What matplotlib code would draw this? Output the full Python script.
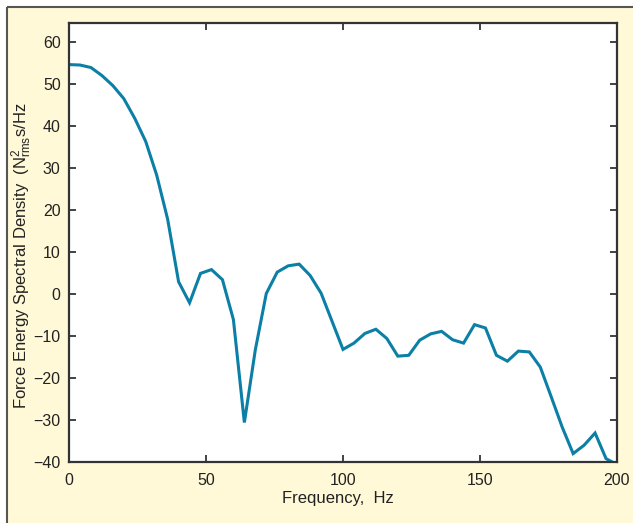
import matplotlib
matplotlib.use("Agg")
import matplotlib.pyplot as plt
from matplotlib.patches import Rectangle

plt.rcParams['font.family'] = ['Liberation Sans', 'DejaVu Sans']
plt.rcParams['mathtext.fontset'] = 'custom'
plt.rcParams['mathtext.rm'] = 'Liberation Sans'
plt.rcParams['mathtext.it'] = 'Liberation Sans:italic'

freq = [0, 4, 8, 12, 16, 20, 24, 28, 32, 36, 40, 44, 48, 52, 56, 60, 64, 68, 72, 76,
        80, 84, 88, 92, 96, 100, 104, 108, 112, 116, 120, 124, 128, 132, 136, 140,
        144, 148, 152, 156, 160, 164, 168, 172, 176, 180, 184, 188, 192, 196, 200]
esd = [54.6, 54.5, 53.9, 52.0, 49.6, 46.5, 41.8, 36.3, 28.3, 17.8, 2.9, -2.1, 4.9,
       5.8, 3.4, -6.1, -30.6, -13.3, 0.1, 5.2, 6.7, 7.1, 4.4, 0.2, -6.5, -13.2, -11.7,
       -9.4, -8.4, -10.6, -14.8, -14.6, -11.0, -9.5, -8.9, -10.9, -11.7, -7.3, -8.1,
       -14.6, -16.0, -13.6, -13.8, -17.4, -24.5, -31.7, -38.0, -36.0, -33.1, -39.2, -40.6]
xticks = [0, 50, 100, 150, 200]
yticks = [-40, -30, -20, -10, 0, 10, 20, 30, 40, 50, 60]

W, H = 633, 523
fig = plt.figure(figsize=(W / 100, H / 100), dpi=100)
fig.patch.set_facecolor('white')
bg = '#FFF9D7'

# background panel
bax = fig.add_axes([0, 0, 1, 1], zorder=-10)
bax.set_xlim(0, W)
bax.set_ylim(H, 0)
bax.axis('off')
bax.add_patch(Rectangle((7, 7), W - 7, H - 7, facecolor=bg, edgecolor='none'))
bax.plot([7, 7], [H, 7], color='#555555', lw=1.5, solid_capstyle='butt')
bax.plot([7, W], [7, 7], color='#555555', lw=1.5, solid_capstyle='butt')

ax = fig.add_axes([69 / W, 1 - 462 / H, (617 - 69) / W, (462 - 23) / H], zorder=1)
ax.set_facecolor('white')
ax.plot(freq, esd, color='#0C7FA6', lw=2.2, solid_joinstyle='miter')
ax.set_xlim(0, 200)
ax.set_ylim(-40, 64.5)
ax.set_xticks(xticks)
ax.set_yticks(yticks)
ax.tick_params(direction='in', length=5, width=1.2, top=True, right=True,
               labelsize=11.5, colors='#222222')
ax.tick_params(axis='x', pad=8)
ax.tick_params(axis='y', pad=6)
for s in ax.spines.values():
    s.set_linewidth(1.6)
    s.set_color('#333333')
ax.set_xlabel('Frequency,  Hz', fontsize=12, color='#222222')
ax.xaxis.set_label_coords(0.491, -0.067)
ax.set_ylabel(r'Force Energy Spectral Density  (N$^{2}_{\rm rms}$s/Hz', fontsize=12,
              color='#222222')
ax.yaxis.set_label_coords(-0.063, 0.47)

fig.savefig('out.png', dpi=100, facecolor=fig.get_facecolor())
